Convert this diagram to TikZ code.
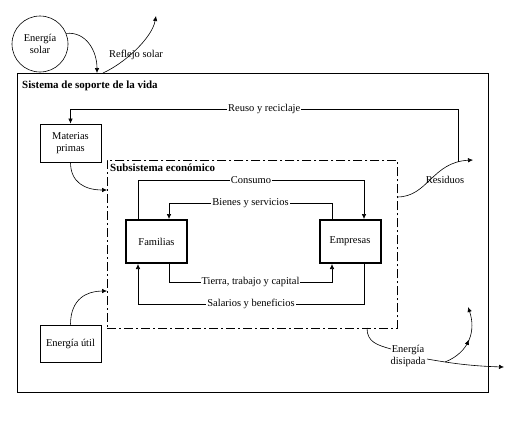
\documentclass[tikz,border=0pt]{standalone}
\usepackage{fontspec}
\setmainfont{Liberation Serif}
\usetikzlibrary{arrows.meta,decorations.markings}
\begin{document}
\begin{tikzpicture}[x=1bp,y=-1bp,
  font=\fontsize{10.5}{11.5}\selectfont,
  >={Latex[length=5bp,width=4.5bp]},
  conn/.style={line width=0.6bp},
  box/.style={draw, line width=0.8bp, minimum width=61bp, minimum height=38bp, align=center, inner sep=1bp},
  thickbox/.style={draw, line width=2bp, minimum width=61bp, minimum height=43bp, inner sep=1bp},
  lbl/.style={fill=white, inner sep=1bp},
  title/.style={anchor=west, font=\fontsize{11}{12}\selectfont\bfseries, inner sep=0pt},
  midarrow/.style={postaction={decorate}, decoration={markings, mark=at position 0.5 with {\arrow{>}}}}]
\useasboundingbox (0,0) rectangle (514,422);

% containers
\node[draw, line width=1.2bp, minimum width=471bp, minimum height=319bp, anchor=north west, inner sep=0pt] (outer) at (17,73) {};
\node[draw, line width=0.7bp, dash pattern=on 9bp off 3bp on 2bp off 3bp, minimum width=290bp, minimum height=168bp, anchor=north west, inner sep=0pt] (sub) at (107,160) {};
\node[title] (t1) at (22,86) {Sistema de soporte de la vida};
\node[title] (t2) at (110,168) {Subsistema económico};

% nodes
\node[draw, circle, line width=0.6bp, minimum size=56bp, inner sep=0pt, align=center] (sol) at (40,44) {Energía\\solar};
\node[box] (mp) at (70.5,143) {Materias\\primas};
\node[box, minimum height=37bp] (eu) at (70.5,343.5) {Energía útil};
\node[thickbox] (fam) at (156.5,241.5) {Familias};
\node[thickbox] (emp) at (350,241.5) {Empresas};

% coordinates
\coordinate (sunin) at (97,73);
\coordinate (reflout) at (103,73);
\coordinate (reflend) at (156,16);
\coordinate (resstart) at (397,197);
\coordinate (resend) at (473,160);
\coordinate (rr) at (458,162);
\coordinate (rtop) at (458,109);
\coordinate (mpin) at (107,190);
\coordinate (euin) at (107,291);
\coordinate (edstart) at (367,328);
\coordinate (edin) at (391,349);
\coordinate (edout) at (427,359);
\coordinate (edend) at (504,367);
\coordinate (upstart) at (445,362);
\coordinate (upend) at (468,307);

% solar
\draw[conn,->] (sol.22) .. controls +(20,-2) and +(0,-22) .. (sunin);
\draw[conn,->] (reflout) .. controls +(22,-10) and +(-4,22) .. (reflend);
\node[inner sep=0pt] (refl) at (136,55) {Reflejo solar};

% recycling loop
\draw[conn,->] (rr) -- (rtop) -| node[lbl,pos=0.25]{Reuso y reciclaje} (mp.north);
\draw[conn,->] (mp.south) .. controls +(0,20) and +(-22,0) .. (mpin);
\draw[conn,->] (eu.north) .. controls +(0,-26) and +(-20,0) .. (euin);
\draw[conn,->] (resstart) .. controls (428,197) and (432,162) .. (resend);
\node[inner sep=0pt] (res) at (445,180) {Residuos};

% inner flows
\draw[conn,->] ([xshift=-18.5bp]fam.north) -- ++(0,-39) -| node[lbl,pos=0.25]{Consumo} ([xshift=14bp]emp.north);
\draw[conn,->] ([xshift=-18bp]emp.north) -- ++(0,-16) -| node[lbl,pos=0.25]{Bienes y servicios} ([xshift=12.5bp]fam.north);
\draw[conn,->] ([xshift=12.5bp]fam.south) -- ++(0,18) -| node[lbl,pos=0.25]{Tierra, trabajo y capital} ([xshift=-18bp]emp.south);
\draw[conn,->] ([xshift=14bp]emp.south) -- ++(0,40) -| node[lbl,pos=0.25]{Salarios y beneficios} ([xshift=-18.5bp]fam.south);

% dissipated energy
\node[inner sep=0pt, align=center] (ed) at (408,356) {Energía\\disipada};
\draw[conn] (edstart) .. controls +(0,14) and +(-14,-4) .. (edin);
\draw[conn,->] (edout) .. controls (450,363) and (470,366) .. (edend);
\draw[conn,->,midarrow] (upstart) .. controls (470,352) and (476,330) .. (upend);
\end{tikzpicture}
\end{document}
